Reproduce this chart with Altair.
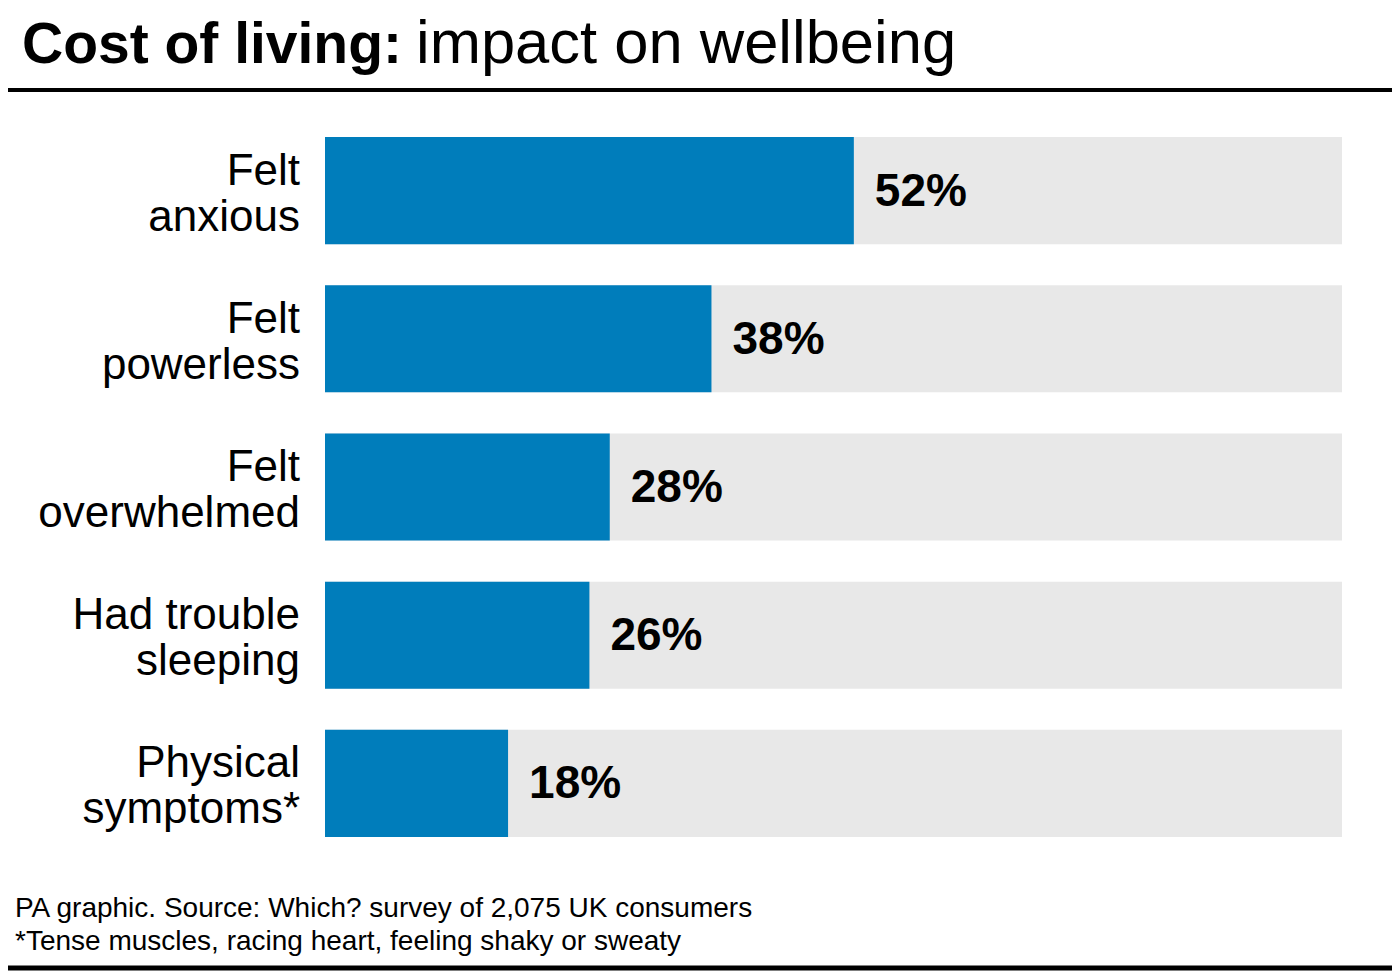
import altair as alt
import pandas as pd

categories = ["Felt\nanxious", "Felt\npowerless", "Felt\noverwhelmed", "Had trouble\nsleeping", "Physical\nsymptoms*"]
values = [52, 38, 28, 26, 18]
value_labels = ["52%", "38%", "28%", "26%", "18%"]
full = [100, 100, 100, 100, 100]

title_bold = "Cost of living:"
title_regular = "impact on wellbeing"
footer_1 = "PA graphic. Source: Which? survey of 2,075 UK consumers"
footer_2 = "*Tense muscles, racing heart, feeling shaky or sweaty"

FONT = "Liberation Sans"
BLUE = "#007DBB"
GREY = "#E8E8E8"
W, H = 1384, 963

df = pd.DataFrame({"cat": categories, "value": values, "label": value_labels, "full": full})

xs = alt.Scale(domain=[0, 100], range=[317, 1334])
ys = alt.Scale(domain=categories, range=[129, 829], paddingInner=0.277, paddingOuter=0)

base = alt.Chart(df)

bg = base.mark_bar(color=GREY).encode(
    x=alt.X("full:Q", scale=xs, axis=None),
    x2=alt.datum(0),
    y=alt.Y("cat:N", scale=ys, axis=None, sort=categories),
)
bars = base.mark_bar(color=BLUE).encode(
    x=alt.X("value:Q", scale=xs, axis=None),
    x2=alt.datum(0),
    y=alt.Y("cat:N", scale=ys, axis=None, sort=categories),
)
vals = base.mark_text(font=FONT, fontSize=46, fontWeight="bold", align="left",
                      baseline="middle", dx=21, dy=1, color="#000000").encode(
    x=alt.X("value:Q", scale=xs, axis=None),
    y=alt.Y("cat:N", scale=ys, axis=None, sort=categories),
    text="label:N",
)
cats = base.mark_text(font=FONT, fontSize=44, align="right", baseline="middle",
                      lineBreak="\n", lineHeight=46, dy=-19, color="#000000").encode(
    x=alt.value(292),
    y=alt.Y("cat:N", scale=ys, axis=None, sort=categories),
    text="cat:N",
)

one = pd.DataFrame({"a": [0]})
t1 = alt.Chart(one).mark_text(font=FONT, fontSize=57, fontWeight="bold", align="left",
                               baseline="alphabetic", color="#000000", text=title_bold).encode(
    x=alt.value(14), y=alt.value(55))
t2 = alt.Chart(one).mark_text(font=FONT, fontSize=61.5, align="left",
                               baseline="alphabetic", color="#000000", text=title_regular).encode(
    x=alt.value(408), y=alt.value(55))
r1 = alt.Chart(one).mark_rule(color="#000000", strokeWidth=4).encode(
    x=alt.value(-10), x2=alt.value(W + 10), y=alt.value(82))
f1 = alt.Chart(one).mark_text(font=FONT, fontSize=28, align="left",
                               baseline="alphabetic", color="#000000", text=footer_1).encode(
    x=alt.value(7), y=alt.value(909))
f2 = alt.Chart(one).mark_text(font=FONT, fontSize=28, align="left",
                               baseline="alphabetic", color="#000000", text=footer_2).encode(
    x=alt.value(7), y=alt.value(942))
r2 = alt.Chart(one).mark_rule(color="#000000", strokeWidth=5).encode(
    x=alt.value(-10), x2=alt.value(W + 10), y=alt.value(960))

chart = alt.layer(bg, bars, vals, cats, t1, t2, r1, f1, f2, r2).properties(
    width=W, height=H, padding=0, autosize=alt.AutoSizeParams(type="none"),
    background="white",
).configure_view(stroke=None)

chart.save("out.html", embed_options={"renderer": "svg", "actions": False})
